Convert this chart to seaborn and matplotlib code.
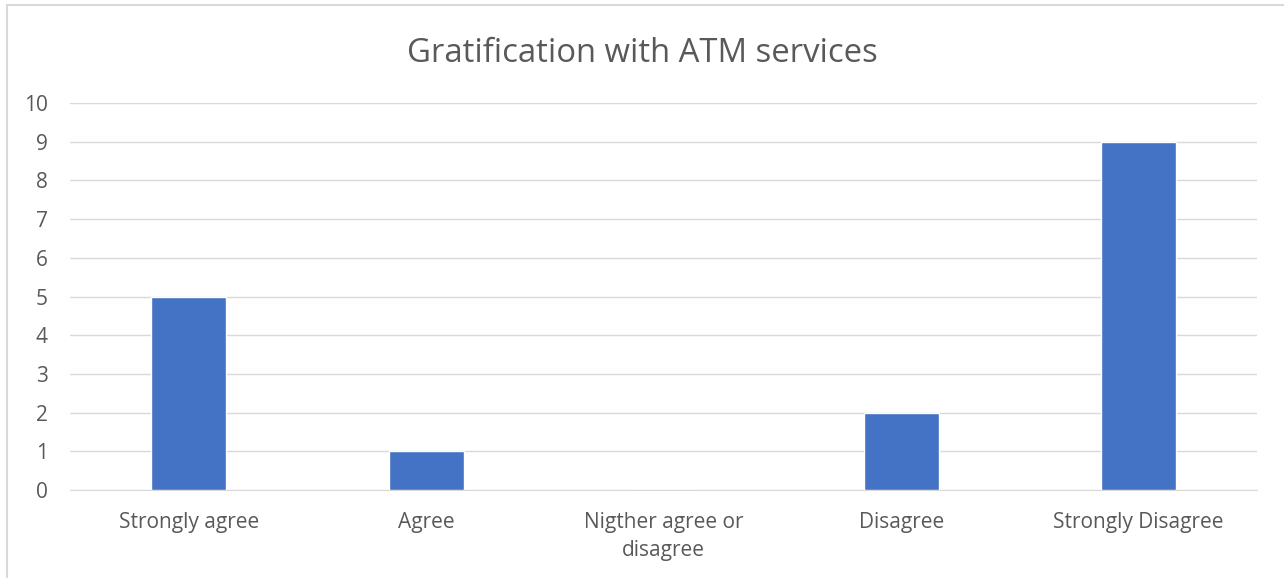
import matplotlib
matplotlib.use("Agg")
import matplotlib.pyplot as plt
import seaborn as sns
import pandas as pd
from matplotlib.lines import Line2D

categories = ["Strongly agree", "Agree", "Nigther agree or\ndisagree", "Disagree", "Strongly Disagree"]
values = [5, 1, 0, 2, 9]
yticks = list(range(0, 11))
title = "Gratification with ATM services"

sns.set_style("white")
plt.rcParams['font.family'] = ['Open Sans', 'DejaVu Sans']

W, H = 1284, 578
fig = plt.figure(figsize=(W / 100, H / 100), dpi=100)
ax = fig.add_axes([0.0545, 0.1522, 0.9248, 0.6696])

df = pd.DataFrame({"cat": categories, "val": values})
sns.barplot(data=df, x="cat", y="val", color="#4472C4", saturation=1, width=0.316, ax=ax, zorder=3)

ax.set_ylim(0, 10)
ax.set_yticks(yticks)
ax.set_xlim(-0.5, len(categories) - 0.5)
ax.grid(axis="y", color="#D9D9D9", linewidth=1, zorder=0)
ax.set_axisbelow(True)
for s in ["top", "right", "left"]:
    ax.spines[s].set_visible(False)
ax.spines["bottom"].set_color("#D9D9D9")
ax.tick_params(axis="both", length=0, colors="#595959", labelsize=15)
ax.tick_params(axis="y", pad=16)
ax.tick_params(axis="x", pad=15.5)
ax.set_xlabel("")
ax.set_ylabel("")
for lab in ax.get_xticklabels():
    lab.set_color("#595959")
    lab.set_linespacing(1.45)
fig.text(0.5, 1 - 53 / H, title, ha="center", va="center", fontsize=23.7, color="#595959")

# chart border (top and left visible)
fig.add_artist(Line2D([6.5 / W, 1], [1 - 5 / H, 1 - 5 / H], transform=fig.transFigure,
                      color="#D9D9D9", linewidth=1.5))
fig.add_artist(Line2D([6.5 / W, 6.5 / W], [0, 1 - 5 / H], transform=fig.transFigure,
                      color="#D9D9D9", linewidth=1.5))
fig.savefig("out.png", dpi=100)
